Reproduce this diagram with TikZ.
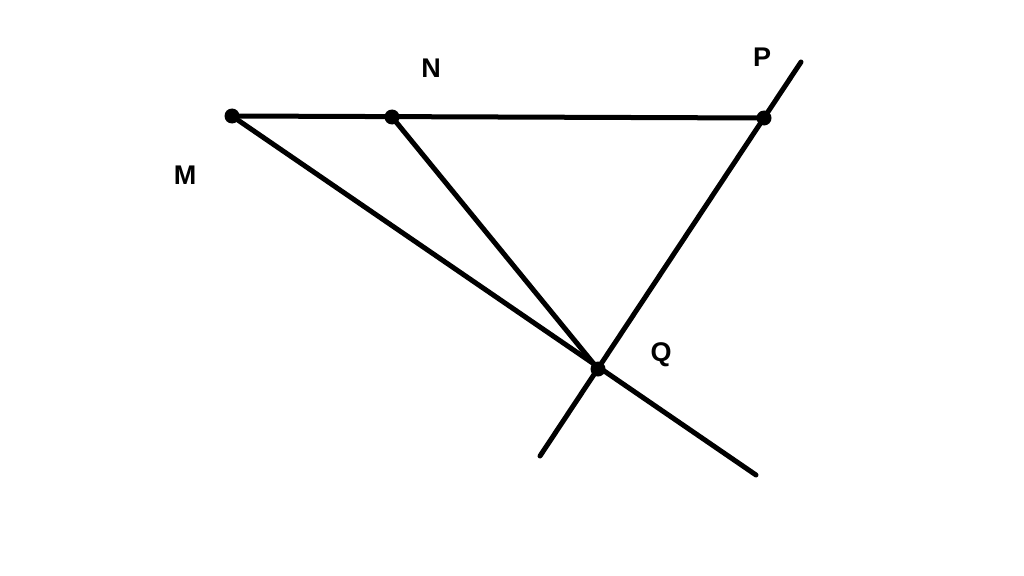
\documentclass[tikz,border=0pt]{standalone}
\usepackage{fontspec}
\setmainfont{Liberation Sans}

\begin{document}
\begin{tikzpicture}[x=1pt,y=-1pt,line cap=round]
  % Styles
  \tikzstyle{important line}=[line width=5pt]
  \tikzstyle{point label}=[font=\fontsize{27}{32}\selectfont\bfseries,inner sep=0pt]

  \useasboundingbox (0,0) rectangle (1024,575);

  % Key Points
  \coordinate (M) at (232, 116);
  \coordinate (N) at (392, 117);
  \coordinate (P) at (764, 118);
  \coordinate (Q) at (598, 369);

  % Line ends
  \coordinate (Pend) at (801, 62);
  \coordinate (Qend) at (540, 456);
  \coordinate (Mend) at (756, 475);

  % Labels
  \node[point label] (labM) at (185, 175) {M};
  \node[point label] (labN) at (431, 68)  {N};
  \node[point label] (labP) at (762, 57)  {P};
  \node[point label] (labQ) at (661, 355) {Q};

  \draw[style=important line] (M) -- (P);
  \draw[style=important line] (M) -- (Mend);
  \draw[style=important line] (N) -- (Q);
  \draw[style=important line] (Pend) -- (Qend);

  % Dots
  \foreach \pt in {M,N,P,Q}
    \fill (\pt) circle (7.5pt);
\end{tikzpicture}
\end{document}
